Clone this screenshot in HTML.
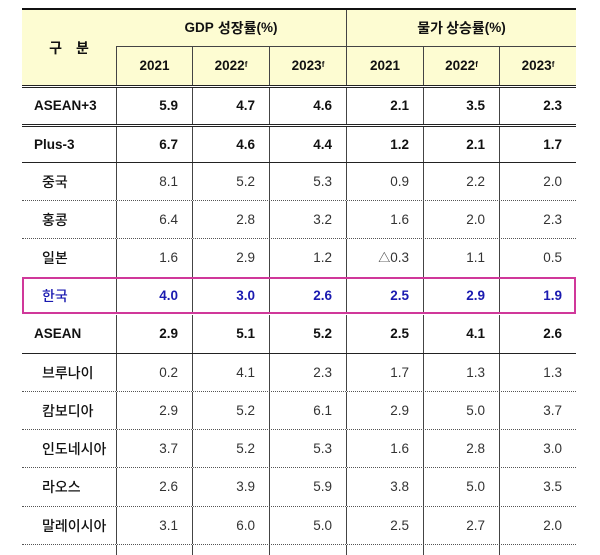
<!DOCTYPE html>
<html><head><meta charset="utf-8"><style>
body{margin:0;width:600px;height:553px;background:#fff;overflow:hidden;position:relative;font-family:"Liberation Sans","Noto Sans CJK KR",sans-serif;font-size:13.5px;color:#111}
.r{position:absolute;left:22px;width:554px;display:flex}
.c{box-sizing:border-box;border-left:1px solid #444;display:flex;align-items:center;justify-content:flex-end;padding-right:14px;height:100%;line-height:1}
.c:first-child{border-left:none;justify-content:flex-start;padding-left:12px;padding-right:0}
.w0{width:94px}.w1{width:76px}.w2{width:77px}
.b{font-weight:bold}
.sub .c:first-child{padding-left:20px}
.k{font-family:"Noto Sans CJK KR",sans-serif;font-weight:500;font-size:14px}
.hl{position:absolute}
.dot{border-bottom:1px dotted #555}
.sol{border-bottom:1px solid #222}
.hd{background:#fdfcd2}
.hd .c{justify-content:center;padding:0;font-weight:bold}
sup{font-size:8px;position:relative;top:-1px}
.n .c:not(:first-child){color:#333}
</style></head><body>
<div class="hl" style="left:22px;top:8px;width:554px;height:2px;background:#111"></div>
<div class="r hd" style="top:10px;height:75px">
 <div class="c w0 k" style="justify-content:center;padding:0;letter-spacing:14px;padding-left:14px;font-weight:bold">구분</div>
 <div style="width:460px;display:flex;flex-wrap:wrap">
  <div class="c" style="width:230px;height:37px;border-bottom:1px solid #444;justify-content:center;padding:0">GDP <span class="k" style="font-weight:bold;margin-left:4px">성장률</span>(%)</div>
  <div class="c" style="width:230px;height:37px;border-bottom:1px solid #444;justify-content:center;padding:0"><span class="k" style="font-weight:bold">물가 상승률</span>(%)</div>
  <div class="c w1" style="height:38px;justify-content:center;padding:0">2021</div>
  <div class="c w2" style="height:38px;justify-content:center;padding:0">2022<sup>f</sup></div>
  <div class="c w2" style="height:38px;justify-content:center;padding:0">2023<sup>f</sup></div>
  <div class="c w2" style="height:38px;justify-content:center;padding:0">2021</div>
  <div class="c w1" style="height:38px;justify-content:center;padding:0">2022<sup>f</sup></div>
  <div class="c w2" style="height:38px;justify-content:center;padding:0">2023<sup>f</sup></div>
 </div>
</div>
<div class="hl" style="left:22px;top:85px;width:554px;height:1px;background:#222"></div>
<div class="hl" style="left:22px;top:87px;width:554px;height:1px;background:#222"></div>
<div class="r b" style="top:88px;height:36px"><div class="c w0">ASEAN+3</div><div class="c w1">5.9</div><div class="c w2">4.7</div><div class="c w2">4.6</div><div class="c w2">2.1</div><div class="c w1">3.5</div><div class="c w2">2.3</div></div>
<div class="hl" style="left:22px;top:124px;width:554px;height:1px;background:#222"></div>
<div class="hl" style="left:22px;top:126px;width:554px;height:1px;background:#222"></div>
<div class="r b sol" style="top:127px;height:35px"><div class="c w0">Plus-3</div><div class="c w1">6.7</div><div class="c w2">4.6</div><div class="c w2">4.4</div><div class="c w2">1.2</div><div class="c w1">2.1</div><div class="c w2">1.7</div></div>
<div class="r sub dot n" style="top:163px;height:37px"><div class="c w0 k">중국</div><div class="c w1">8.1</div><div class="c w2">5.2</div><div class="c w2">5.3</div><div class="c w2">0.9</div><div class="c w1">2.2</div><div class="c w2">2.0</div></div>
<div class="r sub dot n" style="top:201px;height:37px"><div class="c w0 k">홍콩</div><div class="c w1">6.4</div><div class="c w2">2.8</div><div class="c w2">3.2</div><div class="c w2">1.6</div><div class="c w1">2.0</div><div class="c w2">2.3</div></div>
<div class="r sub n" style="top:239px;height:38px"><div class="c w0 k">일본</div><div class="c w1">1.6</div><div class="c w2">2.9</div><div class="c w2">1.2</div><div class="c w2"><span style="font-size:12px">△</span>0.3</div><div class="c w1">1.1</div><div class="c w2">0.5</div></div>
<div class="r sub b" style="top:277px;height:37px;color:#1a1ab0;outline:2px solid #d0389a;outline-offset:-2px"><div class="c w0 k">한국</div><div class="c w1">4.0</div><div class="c w2">3.0</div><div class="c w2">2.6</div><div class="c w2">2.5</div><div class="c w1">2.9</div><div class="c w2">1.9</div></div>
<div class="r b sol" style="top:315px;height:38px"><div class="c w0">ASEAN</div><div class="c w1">2.9</div><div class="c w2">5.1</div><div class="c w2">5.2</div><div class="c w2">2.5</div><div class="c w1">4.1</div><div class="c w2">2.6</div></div>
<div class="r sub dot n" style="top:354px;height:37px"><div class="c w0 k">브루나이</div><div class="c w1">0.2</div><div class="c w2">4.1</div><div class="c w2">2.3</div><div class="c w2">1.7</div><div class="c w1">1.3</div><div class="c w2">1.3</div></div>
<div class="r sub dot n" style="top:392px;height:37px"><div class="c w0 k">캄보디아</div><div class="c w1">2.9</div><div class="c w2">5.2</div><div class="c w2">6.1</div><div class="c w2">2.9</div><div class="c w1">5.0</div><div class="c w2">3.7</div></div>
<div class="r sub dot n" style="top:430px;height:37px"><div class="c w0 k">인도네시아</div><div class="c w1">3.7</div><div class="c w2">5.2</div><div class="c w2">5.3</div><div class="c w2">1.6</div><div class="c w1">2.8</div><div class="c w2">3.0</div></div>
<div class="r sub dot n" style="top:468px;height:38px"><div class="c w0 k">라오스</div><div class="c w1">2.6</div><div class="c w2">3.9</div><div class="c w2">5.9</div><div class="c w2">3.8</div><div class="c w1">5.0</div><div class="c w2">3.5</div></div>
<div class="r sub dot n" style="top:507px;height:37px"><div class="c w0 k">말레이시아</div><div class="c w1">3.1</div><div class="c w2">6.0</div><div class="c w2">5.0</div><div class="c w2">2.5</div><div class="c w1">2.7</div><div class="c w2">2.0</div></div>
<div class="r sub" style="top:545px;height:10px"><div class="c w0"></div><div class="c w1"></div><div class="c w2"></div><div class="c w2"></div><div class="c w2"></div><div class="c w1"></div><div class="c w2"></div></div>
</body></html>
